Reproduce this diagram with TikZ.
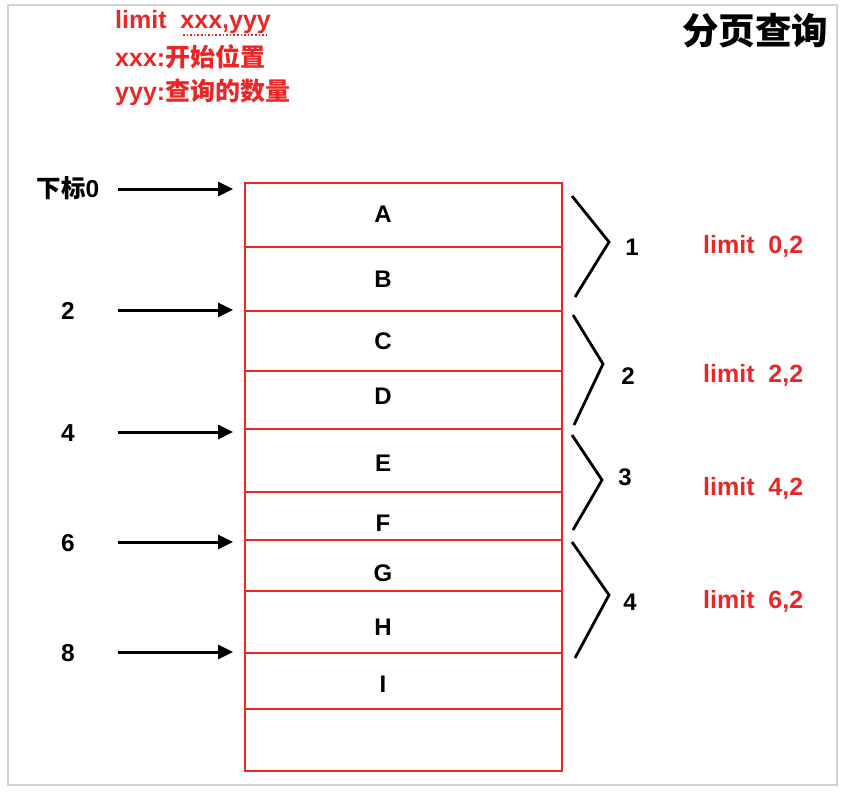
\documentclass[tikz,border=0pt]{standalone}
\usepackage{fontspec}
\setmainfont{Liberation Sans}
\newfontfamily\cjk{Noto Sans CJK SC}
\usetikzlibrary{arrows.meta}
\definecolor{boxred}{RGB}{240,36,36}
\definecolor{txtred}{RGB}{234,38,38}
\definecolor{framegray}{RGB}{210,210,210}
\begin{document}
\begin{tikzpicture}[x=1pt,y=-1pt,
  rowbox/.style={draw=boxred, line width=2.4pt, minimum width=317pt, inner sep=0pt, anchor=north west},
  letter/.style={font=\bfseries\fontsize{24}{24}\selectfont, inner sep=0pt},
  idx/.style={font=\bfseries\fontsize{24.5}{24.5}\selectfont, inner sep=0pt},
  lim/.style={font=\bfseries\fontsize{25}{25}\selectfont, text=txtred, inner sep=0pt, anchor=west},
  note/.style={font=\bfseries\fontsize{25}{25}\selectfont, text=txtred, inner sep=0pt, anchor=west},
  ptr/.style={line width=3pt, -{Triangle[length=15pt,width=14pt]}},
  brace/.style={line width=2.8pt, line join=miter},
  grp/.style={font=\bfseries\fontsize{24}{24}\selectfont, inner sep=0pt}]
\useasboundingbox (0,0) rectangle (854,804);
\draw[framegray, line width=2.5pt] (8,5) rectangle (837,785);

% title and notes
\node[font=\cjk\bfseries\fontsize{36.5}{36.5}\selectfont, inner sep=0pt] (title) at (755,31) {分页查询};
\node[note] (n1) at (115,22) {limit\ \ xxx,yyy};
\draw[txtred, line width=1.6pt, dotted] (183,35) -- (268,35);
\node[note] (n2) at (115,57) {xxx:{\cjk 开始位置}};
\node[note] (n3) at (115,92) {yyy:{\cjk 查询的数量}};

% rows
\node[rowbox, minimum height=64pt] (rA) at (244,182) {};
\node[rowbox, minimum height=64pt] (rB) at (244,246) {};
\node[rowbox, minimum height=60pt] (rC) at (244,310) {};
\node[rowbox, minimum height=58pt] (rD) at (244,370) {};
\node[rowbox, minimum height=63pt] (rE) at (244,428) {};
\node[rowbox, minimum height=48pt] (rF) at (244,491) {};
\node[rowbox, minimum height=51pt] (rG) at (244,539) {};
\node[rowbox, minimum height=62pt] (rH) at (244,590) {};
\node[rowbox, minimum height=56pt] (rI) at (244,652) {};
\node[rowbox, minimum height=62pt] (rJ) at (244,708) {};

\node[letter] (lA) at (383,214) {A};
\node[letter] (lB) at (383,279) {B};
\node[letter] (lC) at (383,341) {C};
\node[letter] (lD) at (383,396) {D};
\node[letter] (lE) at (383,463) {E};
\node[letter] (lF) at (383,523) {F};
\node[letter] (lG) at (383,573) {G};
\node[letter] (lH) at (383,627) {H};
\node[letter] (lI) at (383,684) {I};

% index pointers
\node[idx] (i0) at (68,188) {{\cjk 下标}0};
\node[idx] (i2) at (68,311) {2};
\node[idx] (i4) at (68,433) {4};
\node[idx] (i6) at (68,543) {6};
\node[idx] (i8) at (68,653) {8};
\coordinate (s0) at (118,189); \coordinate (e0) at (233,189);
\coordinate (s2) at (118,310); \coordinate (e2) at (233,310);
\coordinate (s4) at (118,432); \coordinate (e4) at (233,432);
\coordinate (s6) at (118,542); \coordinate (e6) at (233,542);
\coordinate (s8) at (118,652); \coordinate (e8) at (233,652);
\draw[ptr] (s0) -- (e0);
\draw[ptr] (s2) -- (e2);
\draw[ptr] (s4) -- (e4);
\draw[ptr] (s6) -- (e6);
\draw[ptr] (s8) -- (e8);

% groups
\draw[brace] (572,196) -- (609,242) -- (575,297);
\draw[brace] (573,315) -- (603,364) -- (574,425);
\draw[brace] (572,435) -- (602,480) -- (573,530);
\draw[brace] (572,542) -- (609,595) -- (575,658);
\node[grp] (g1) at (632,247) {1};
\node[grp] (g2) at (628,376) {2};
\node[grp] (g3) at (625,477) {3};
\node[grp] (g4) at (630,602) {4};

\node[lim] (m1) at (703,246) {limit\ \ 0,2};
\node[lim] (m2) at (703,375) {limit\ \ 2,2};
\node[lim] (m3) at (703,488) {limit\ \ 4,2};
\node[lim] (m4) at (703,601) {limit\ \ 6,2};
\end{tikzpicture}
\end{document}
